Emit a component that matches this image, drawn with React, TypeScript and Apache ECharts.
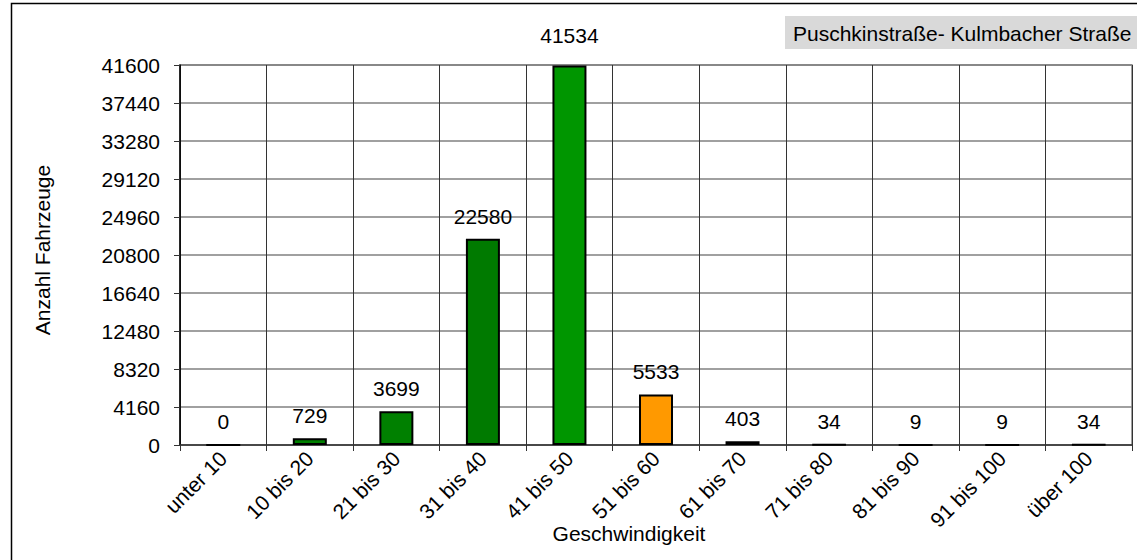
import React, { useEffect, useRef } from "react";
import * as echarts from "echarts";

const categories = ["unter 10", "10 bis 20", "21 bis 30", "31 bis 40", "41 bis 50", "51 bis 60", "61 bis 70", "71 bis 80", "81 bis 90", "91 bis 100", "über 100"];
const counts = [0, 729, 3699, 22580, 41534, 5533, 403, 34, 9, 9, 34];
const barColors = ["#008000", "#008000", "#008000", "#007a00", "#009600", "#ff9900", "#800000", "#800000", "#800000", "#800000", "#800000"];
const yMax = 41600;
const yStep = 4160;
const titleText = "Puschkinstraße- Kulmbacher Straße";
const xName = "Geschwindigkeit";
const yName = "Anzahl Fahrzeuge";

const FONT = "'Liberation Sans', Arial, sans-serif";
const FS = 21;

export default function App() {
  const ref = useRef<HTMLDivElement>(null);
  useEffect(() => {
    if (!ref.current) return;
    const chart = echarts.init(ref.current, null, { renderer: "svg" });
    chart.setOption({
      animation: false,
      backgroundColor: "#ffffff",
      textStyle: { fontFamily: FONT },
      grid: { left: 180, top: 65, right: 5, bottom: 115, show: true, borderColor: "#808080", borderWidth: 1.5, containLabel: false },
      xAxis: {
        type: "category",
        data: categories,
        boundaryGap: true,
        axisLine: { lineStyle: { color: "#333", width: 1.5 } },
        axisTick: { show: true, alignWithLabel: false, length: 6, lineStyle: { color: "#333" } },
        axisLabel: { rotate: 45, margin: 10, color: "#000", fontSize: FS, fontFamily: FONT, interval: 0 },
        splitLine: { show: true, lineStyle: { color: "#333", width: 1 } },
      },
      yAxis: {
        type: "value",
        min: 0,
        max: yMax,
        interval: yStep,
        axisLine: { show: true, lineStyle: { color: "#000", width: 1.5 } },
        axisTick: { show: true, length: 6, lineStyle: { color: "#333" } },
        axisLabel: { margin: 20, color: "#000", fontSize: FS, fontFamily: FONT, formatter: (v: number) => String(v) },
        splitLine: { show: true, lineStyle: { color: "#808080", width: 1.5 } },
      },
      series: [
        {
          type: "bar",
          data: counts.map((v, i) => ({
            value: v,
            itemStyle: { color: barColors[i] },
            label: v === Math.max(...counts) ? { distance: 20 } : undefined,
          })),
          barWidth: 34,
          itemStyle: { borderColor: "#000", borderWidth: 2 },
          label: { show: true, position: "top", distance: 12, color: "#000", fontSize: FS, fontFamily: FONT },
        },
      ],
      graphic: [
        { type: "rect", silent: true, shape: { x: 11.5, y: 3.5, width: 1200, height: 700 }, style: { fill: "none", stroke: "#000", lineWidth: 1.5 } },
        { type: "rect", silent: true, shape: { x: 785, y: 16, width: 400, height: 33 }, style: { fill: "#d9d9d9", stroke: "none" } },
        { type: "text", x: 793, y: 33, style: { text: titleText, fontSize: FS, fontFamily: FONT, fill: "#000", verticalAlign: "middle" } },
        { type: "text", x: 629, y: 533, style: { text: xName, fontSize: FS, fontFamily: FONT, fill: "#000", align: "center", verticalAlign: "middle" } },
        { type: "text", x: 42, y: 250, rotation: Math.PI / 2, style: { text: yName, fontSize: FS, fontFamily: FONT, fill: "#000", align: "center", verticalAlign: "middle" } },
      ],
    });
    return () => chart.dispose();
  }, []);
  return <div ref={ref} style={{ position: "absolute", left: 0, top: 0, width: 1137, height: 560 }} />;
}
